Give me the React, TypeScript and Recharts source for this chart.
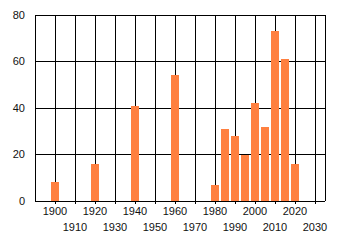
import {
  BarChart,
  Bar,
  XAxis,
  YAxis,
  CartesianGrid,
  ReferenceLine,
} from "recharts";

const years = [1900, 1920, 1940, 1960, 1980, 1985, 1990, 1995, 2000, 2005, 2010, 2015, 2020];
const counts = [8, 16, 41, 54, 7, 31, 28, 20, 42, 32, 73, 61, 16];
const xTicks = [1900, 1910, 1920, 1930, 1940, 1950, 1960, 1970, 1980, 1990, 2000, 2010, 2020, 2030];
const yTicks = [0, 20, 40, 60, 80];

const data = years.map((year, i) => ({ year, count: counts[i] }));

const font = "'Liberation Sans', Arial, sans-serif";

// labels alternate between two rows so they don't collide
function StaggeredTick(props: any) {
  const { x, y, payload, index } = props;
  return (
    <text
      x={x}
      y={y}
      dy={index % 2 === 0 ? 9 : 24.5}
      textAnchor="middle"
      fontSize={11}
      fontFamily={font}
      fill="#111"
    >
      {payload.value}
    </text>
  );
}

export default function App() {
  return (
    <div
      style={{
        position: "absolute",
        left: 0,
        top: 0,
        background: "#fff",
        shapeRendering: "crispEdges",
      }}
    >
      <BarChart
        width={340}
        height={245}
        data={data}
        margin={{ top: 15, right: 15, left: 0, bottom: 0 }}
      >
        <CartesianGrid stroke="#000" strokeWidth={1} />
        <XAxis
          dataKey="year"
          type="number"
          domain={[1890, 2035]}
          ticks={xTicks}
          interval={0}
          height={44}
          stroke="#000"
          tickSize={3}
          tick={<StaggeredTick />}
        />
        <YAxis
          domain={[0, 80]}
          ticks={yTicks}
          width={35}
          stroke="#000"
          tickLine={false}
          tickMargin={4}
          tick={{ fill: "#111", fontSize: 11, fontFamily: font }}
        />
        <ReferenceLine x={2035} stroke="#000" />
        <Bar dataKey="count" fill="#ff8040" barSize={8} isAnimationActive={false} />
      </BarChart>
    </div>
  );
}
